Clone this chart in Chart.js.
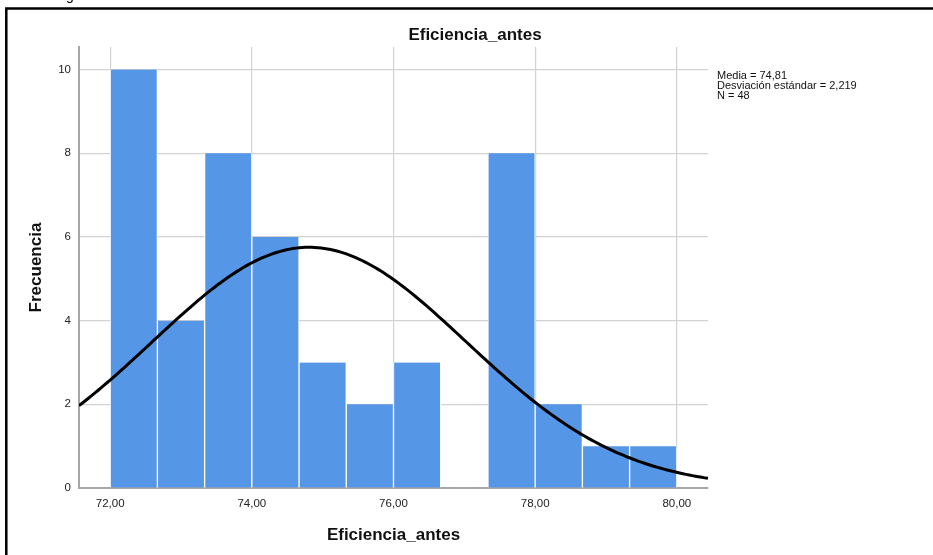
<!DOCTYPE html>
<html>
<head>
<meta charset="utf-8">
<script src="https://cdn.jsdelivr.net/npm/chart.js@4.4.1/dist/chart.umd.min.js"></script>
<style>
  html, body { margin: 0; padding: 0; background: #ffffff; }
  #wrap { width: 933px; height: 555px; position: relative; }
</style>
</head>
<body>
<div id="wrap"><canvas id="hist" width="933" height="555"></canvas></div>
<script>
// Histogram counts per bin (bins of equal width from 72 to 80)
const binCounts = [10, 4, 8, 6, 3, 2, 3, 0, 8, 2, 1, 1];
const binStart = 72;
const binEnd = 80;

// Axis range and ticks
const xRange = [71.56, 80.44];
const xTickValues = [72, 74, 76, 78, 80];
const yTickValues = [0, 2, 4, 6, 8, 10];
const yMax = 10.54;

// Summary statistics shown beside the plot
const media = 74.81;
const desviacion = 2.219;
const nCasos = 48;
const statLines = ['Media = 74,81', 'Desviación estándar = 2,219', 'N = 48'];

const chartTitle = 'Eficiencia_antes';
const xTitle = 'Eficiencia_antes';
const yTitle = 'Frecuencia';

const FONT = '"Liberation Sans", Arial, Helvetica, sans-serif';
const BAR_BLUE = '#5596e6';

// Bar centres
const binWidth = (binEnd - binStart) / binCounts.length;
const barData = binCounts.map((c, i) => ({ x: binStart + binWidth * (i + 0.5), y: c }));

// Normal curve scaled to the histogram (N * bin width * density)
const curveData = [];
const steps = 200;
for (let i = 0; i <= steps; i++) {
  const x = xRange[0] + (xRange[1] - xRange[0]) * i / steps;
  const z = (x - media) / desviacion;
  const y = nCasos * binWidth * Math.exp(-0.5 * z * z) / (desviacion * Math.sqrt(2 * Math.PI));
  curveData.push({ x, y });
}

const fmtComma = v => v.toFixed(2).replace('.', ',');

// Frame, titles and statistics text
const decorations = {
  id: 'decorations',
  afterDraw(chart) {
    const ctx = chart.ctx;
    const area = chart.chartArea;
    ctx.save();

    // descender of the caption line above the frame
    ctx.fillStyle = '#000';
    ctx.font = '14px ' + FONT;
    ctx.textAlign = 'center';
    ctx.textBaseline = 'alphabetic';
    ctx.fillText('g', 70, -0.5);

    // frame
    ctx.strokeStyle = '#000';
    ctx.lineWidth = 2.5;
    ctx.beginPath();
    ctx.moveTo(6.3, 560);
    ctx.lineTo(6.3, 8.5);
    ctx.lineTo(940, 8.5);
    ctx.stroke();

    // chart title
    ctx.fillStyle = '#111';
    ctx.font = 'bold 17px ' + FONT;
    ctx.textAlign = 'center';
    ctx.fillText(chartTitle, 475, 40);

    // x axis title
    ctx.fillText(xTitle, (area.left + area.right) / 2, 540);

    // y axis title
    ctx.save();
    ctx.translate(41, (area.top + area.bottom) / 2);
    ctx.rotate(-Math.PI / 2);
    ctx.textAlign = 'center';
    ctx.fillText(yTitle, 0, 0);
    ctx.restore();

    // statistics
    ctx.font = '11px ' + FONT;
    ctx.textAlign = 'left';
    ctx.fillStyle = '#111';
    statLines.forEach((t, i) => ctx.fillText(t, 717, 79 + i * 10));

    ctx.restore();
  }
};

new Chart(document.getElementById('hist'), {
  data: {
    datasets: [
      {
        type: 'line',
        data: curveData,
        borderColor: '#000',
        borderWidth: 3,
        pointRadius: 0,
        tension: 0,
        fill: false,
        order: 0
      },
      {
        type: 'bar',
        data: barData,
        backgroundColor: BAR_BLUE,
        borderColor: '#ffffff',
        borderWidth: { left: 1, right: 1, top: 0, bottom: 0 },
        borderSkipped: false,
        barPercentage: 1,
        categoryPercentage: 1,
        order: 1
      }
    ]
  },
  options: {
    responsive: false,
    animation: false,
    events: [],
    layout: { padding: { top: 47, right: 225, bottom: 0, left: 0 } },
    plugins: {
      legend: { display: false },
      tooltip: { enabled: false },
      title: { display: false }
    },
    scales: {
      x: {
        type: 'linear',
        offset: false,
        min: xRange[0],
        max: xRange[1],
        afterBuildTicks: s => { s.ticks = xTickValues.map(v => ({ value: v })); },
        afterFit: s => { s.height = 67; },
        grid: { color: '#d2d2d2', lineWidth: 1.2, drawTicks: false, offset: false },
        border: { color: '#a6a6a6', width: 2 },
        ticks: {
          padding: 9,
          color: '#222',
          font: { family: FONT, size: 11.5 },
          maxRotation: 0,
          callback: v => fmtComma(v)
        }
      },
      y: {
        type: 'linear',
        min: 0,
        max: yMax,
        afterBuildTicks: s => { s.ticks = yTickValues.map(v => ({ value: v })); },
        afterFit: s => { s.width = 79; },
        grid: { color: '#d2d2d2', lineWidth: 1.2, drawTicks: false },
        border: { color: '#a6a6a6', width: 2 },
        ticks: {
          padding: 8,
          color: '#222',
          font: { family: FONT, size: 11.5 },
          callback: v => String(v)
        }
      }
    }
  },
  plugins: [decorations]
});
</script>
</body>
</html>
